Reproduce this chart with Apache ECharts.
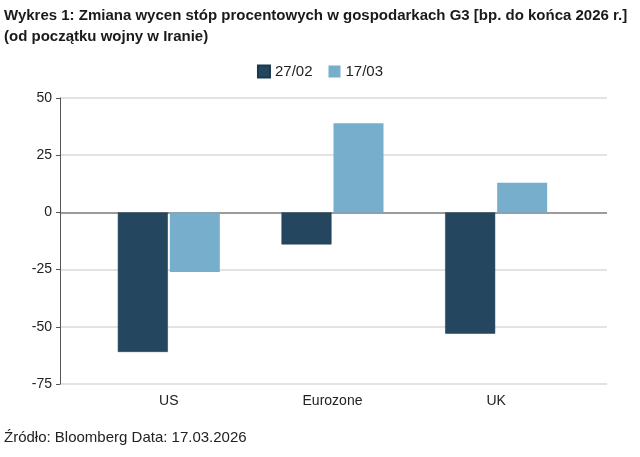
<!DOCTYPE html>
<html>
<head>
<meta charset="utf-8">
<script src="https://cdn.jsdelivr.net/npm/echarts@6/dist/echarts.min.js"></script>
<style>
html, body { margin: 0; padding: 0; background: #fff; }
#chart { width: 640px; height: 457px; }
</style>
</head>
<body>
<div id="chart"></div>
<script>
var categories = ['US', 'Eurozone', 'UK'];
var seriesNames = ['27/02', '17/03'];
var values2702 = [-61, -14, -53];
var values1703 = [-26, 39, 13];
var yTicks = { min: -75, max: 50, interval: 25 };

var myChart = echarts.init(document.getElementById('chart'));
var font = '"Liberation Sans", Arial, sans-serif';
var grid_ = '#dadada';

var option = {
	backgroundColor: '#fff',
	textStyle: { fontFamily: font },
	title: {
		text: 'Wykres 1: Zmiana wycen stóp procentowych w gospodarkach G3 [bp. do końca 2026 r.]\n(od początku wojny w Iranie)',
		left: 0,
		top: 0,
		padding: [5, 4],
		textStyle: { fontSize: 15, fontWeight: 'bold', color: '#1a1a1a', lineHeight: 21, fontFamily: font }
	},
	graphic: [{
		type: 'text',
		left: 4,
		top: 430,
		style: { text: 'Źródło: Bloomberg Data: 17.03.2026', font: '15px ' + font, fill: '#222' }
	}],
	legend: {
		data: seriesNames,
		top: 64,
		left: 'center',
		padding: 0,
		itemWidth: 12,
		itemHeight: 12,
		itemGap: 16,
		icon: 'rect',
		textStyle: { fontSize: 15, color: '#222', fontFamily: font }
	},
	// grid 0: full-width frame (y axis, grid lines), grid 1: bars
	grid: [
		{ left: 60, right: 33, top: 98, bottom: 73 },
		{ left: 87, right: 62, top: 98, bottom: 73 }
	],
	xAxis: [{
		type: 'category',
		gridIndex: 0,
		data: [''],
		show: false
	}, {
		type: 'category',
		gridIndex: 1,
		data: categories,
		axisLine: { show: false },
		axisTick: { show: false },
		axisLabel: { fontSize: 14, color: '#222', margin: 10, fontFamily: font }
	}],
	yAxis: [{
		type: 'value',
		gridIndex: 0,
		min: yTicks.min,
		max: yTicks.max,
		interval: yTicks.interval,
		axisLine: { show: true, lineStyle: { color: '#555', width: 1 } },
		axisTick: { show: true, length: 4, lineStyle: { color: '#555' } },
		axisLabel: { fontSize: 14, color: '#222', margin: 8, fontFamily: font },
		splitLine: { show: true, lineStyle: { color: [grid_, grid_, grid_, '#7a7a7a', grid_, grid_], width: 1.5 } }
	}, {
		type: 'value',
		gridIndex: 1,
		min: yTicks.min,
		max: yTicks.max,
		interval: yTicks.interval,
		show: false,
		splitLine: { show: false }
	}],
	series: [{
		name: seriesNames[0],
		type: 'bar',
		xAxisIndex: 1,
		yAxisIndex: 1,
		data: values2702,
		barWidth: 50,
		barGap: '4%',
		itemStyle: { color: '#24475f', borderColor: '#1a3850', borderWidth: 0.5 }
	}, {
		name: seriesNames[1],
		type: 'bar',
		xAxisIndex: 1,
		yAxisIndex: 1,
		data: values1703,
		barWidth: 50,
		itemStyle: { color: '#76aecb' }
	}]
};
myChart.setOption(option);
</script>
</body>
</html>
